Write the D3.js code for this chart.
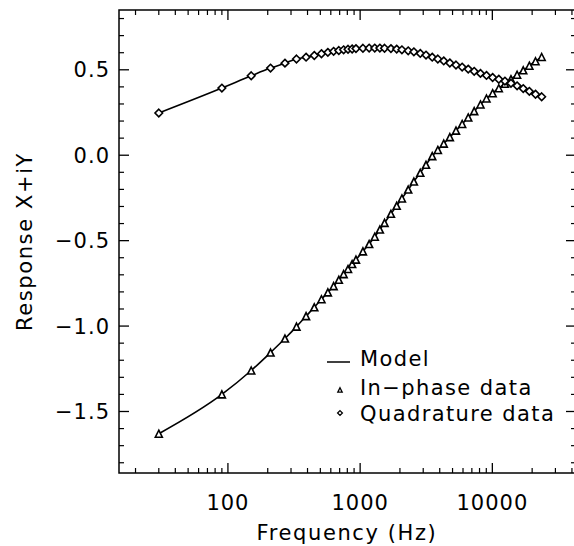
<!DOCTYPE html>
<html>
<head>
<meta charset="utf-8">
<title>Response X+iY</title>
<script src="https://d3js.org/d3.v7.min.js"></script>
<style>
  html, body { margin: 0; padding: 0; background: #fff; overflow: hidden; }
  svg { display: block; }
  text { font-family: "DejaVu Sans", Arial, sans-serif; fill: #000; }
</style>
</head>
<body>
<div id="chart"></div>
<script>
// data
var freqs = [30, 90, 150, 210, 270, 330, 390, 450, 510, 570, 630, 690, 750, 810, 870, 930,
  1050, 1170, 1290, 1410, 1530, 1710, 1890, 2070, 2310, 2550, 2850, 3150, 3510, 3870,
  4290, 4770, 5310, 5910, 6570, 7290, 8130, 9030, 10050, 11190, 12450, 13830, 15390,
  17130, 19050, 21210, 23610];
var inPhase = [-1.630, -1.400, -1.260, -1.155, -1.073, -1.003, -0.942, -0.890, -0.843, -0.803,
  -0.766, -0.729, -0.696, -0.666, -0.637, -0.611, -0.563, -0.520, -0.477, -0.435, -0.396,
  -0.343, -0.296, -0.253, -0.201, -0.154, -0.103, -0.056, -0.005, 0.031, 0.068, 0.106,
  0.144, 0.183, 0.221, 0.258, 0.297, 0.332, 0.363, 0.392, 0.418, 0.445, 0.471, 0.497,
  0.524, 0.550, 0.575];
var quadrature = [0.247, 0.393, 0.465, 0.510, 0.539, 0.563, 0.574, 0.584, 0.594, 0.602,
  0.608, 0.613, 0.617, 0.620, 0.622, 0.624, 0.626, 0.627, 0.627, 0.627, 0.626, 0.624,
  0.621, 0.617, 0.611, 0.605, 0.596, 0.586, 0.574, 0.563, 0.552, 0.540, 0.528, 0.516,
  0.504, 0.491, 0.479, 0.467, 0.455, 0.445, 0.434, 0.421, 0.406, 0.390, 0.374, 0.357, 0.342];
var xMajor = [100, 1000, 10000];
var yMajor = [-1.5, -1.0, -0.5, 0.0, 0.5];
var legendLabels = ["Model", "In\u2212phase data", "Quadrature data"];

var width = 574, height = 546;
// right frame sits just past the picture edge, only its ticks show
var plotL = 119, plotR = 576, plotT = 10, plotB = 473;

var svg = d3.select("#chart").append("svg")
    .attr("width", width)
    .attr("height", height);

var x = d3.scaleLog().domain([15, 42930]).range([plotL, plotR]);
var y = d3.scaleLinear().domain([-1.86, 0.85]).range([plotB, plotT]);

// minor ticks
var xMinor = [];
[10, 100, 1000, 10000].forEach(function(dec) {
  for (var k = 2; k <= 9; k++) {
    var v = dec * k;
    if (v > x.domain()[0] && v < x.domain()[1]) xMinor.push(v);
  }
});
var yMinor = d3.range(-18, 9).map(function(i) { return i / 10; })
  .filter(function(v) { return Math.abs(v * 2 - Math.round(v * 2)) > 1e-6; });

var g = svg.append("g").attr("stroke", "#000").attr("fill", "none");

// frame
g.append("rect")
  .attr("x", plotL).attr("y", plotT)
  .attr("width", plotR - plotL).attr("height", plotB - plotT)
  .attr("stroke-width", 1.5);

// x ticks (bottom + top)
xMajor.forEach(function(v) {
  g.append("line").attr("x1", x(v)).attr("x2", x(v)).attr("y1", plotB).attr("y2", plotB - 10).attr("stroke-width", 1.3);
  g.append("line").attr("x1", x(v)).attr("x2", x(v)).attr("y1", plotT).attr("y2", plotT + 10).attr("stroke-width", 1.3);
});
xMinor.forEach(function(v) {
  g.append("line").attr("x1", x(v)).attr("x2", x(v)).attr("y1", plotB).attr("y2", plotB - 5).attr("stroke-width", 1.2);
  g.append("line").attr("x1", x(v)).attr("x2", x(v)).attr("y1", plotT).attr("y2", plotT + 5).attr("stroke-width", 1.2);
});

// y ticks (left + right)
yMajor.forEach(function(v) {
  g.append("line").attr("x1", plotL).attr("x2", plotL + 10).attr("y1", y(v)).attr("y2", y(v)).attr("stroke-width", 1.3);
  g.append("line").attr("x1", plotR).attr("x2", plotR - 10).attr("y1", y(v)).attr("y2", y(v)).attr("stroke-width", 1.3);
});
yMinor.forEach(function(v) {
  g.append("line").attr("x1", plotL).attr("x2", plotL + 5).attr("y1", y(v)).attr("y2", y(v)).attr("stroke-width", 1.2);
  g.append("line").attr("x1", plotR).attr("x2", plotR - 5).attr("y1", y(v)).attr("y2", y(v)).attr("stroke-width", 1.2);
});

// tick labels
svg.selectAll(".xlab").data(xMajor).enter().append("text")
  .attr("x", function(d) { return x(d); })
  .attr("y", 510)
  .attr("text-anchor", "middle")
  .attr("font-size", 21)
  .attr("letter-spacing", 1)
  .text(function(d) { return d; });

svg.selectAll(".ylab").data(yMajor).enter().append("text")
  .attr("x", 110)
  .attr("y", function(d) { return y(d) + 7.5; })
  .attr("text-anchor", "end")
  .attr("font-size", 21)
  .attr("letter-spacing", 1)
  .text(function(d) { return (d < 0 ? "\u2212" : "") + Math.abs(d).toFixed(1); });

// axis titles
svg.append("text")
  .attr("x", 347)
  .attr("y", 540)
  .attr("text-anchor", "middle")
  .attr("font-size", 21)
  .attr("letter-spacing", 1.6)
  .text("Frequency (Hz)");

svg.append("text")
  .attr("transform", "translate(32," + ((plotT + plotB) / 2) + ") rotate(-90)")
  .attr("text-anchor", "middle")
  .attr("font-size", 21)
  .attr("letter-spacing", 1.6)
  .text("Response X+iY");

// model curves
var line = d3.line()
  .x(function(d) { return x(d[0]); })
  .y(function(d) { return y(d[1]); })
  .curve(d3.curveMonotoneX);

[inPhase, quadrature].forEach(function(series) {
  svg.append("path")
    .datum(freqs.map(function(f, i) { return [f, series[i]]; }))
    .attr("d", line)
    .attr("fill", "none")
    .attr("stroke", "#000")
    .attr("stroke-width", 1.6);
});

function triPath(r) { return "M0," + (-r) + "L" + r + "," + r + "L" + (-r) + "," + r + "Z"; }
function diaPath(r) { return "M0," + (-r) + "L" + r + ",0L0," + r + "L" + (-r) + ",0Z"; }

// markers
svg.selectAll(".tri").data(freqs).enter().append("path")
  .attr("transform", function(d, i) { return "translate(" + x(d) + "," + y(inPhase[i]) + ")"; })
  .attr("d", triPath(3.5))
  .attr("fill", "#fff")
  .attr("stroke", "#000")
  .attr("stroke-width", 1.6);

svg.selectAll(".dia").data(freqs).enter().append("path")
  .attr("transform", function(d, i) { return "translate(" + x(d) + "," + y(quadrature[i]) + ")"; })
  .attr("d", diaPath(3.8))
  .attr("fill", "#fff")
  .attr("stroke", "#000")
  .attr("stroke-width", 1.6);

// legend
var legY = [366, 395, 421];
var leg = svg.append("g");
leg.append("line")
  .attr("x1", 327).attr("x2", 350)
  .attr("y1", 362).attr("y2", 362)
  .attr("stroke", "#000").attr("stroke-width", 1.5);
leg.append("path")
  .attr("transform", "translate(340,390)")
  .attr("d", triPath(2.2))
  .attr("fill", "#fff").attr("stroke", "#000").attr("stroke-width", 1.3);
leg.append("path")
  .attr("transform", "translate(340,413)")
  .attr("d", diaPath(2.4))
  .attr("fill", "#fff").attr("stroke", "#000").attr("stroke-width", 1.3);
leg.selectAll("text").data(legendLabels).enter().append("text")
  .attr("x", 360)
  .attr("y", function(d, i) { return legY[i]; })
  .attr("font-size", 21)
  .attr("letter-spacing", 1.4)
  .text(function(d) { return d; });
</script>
</body>
</html>
